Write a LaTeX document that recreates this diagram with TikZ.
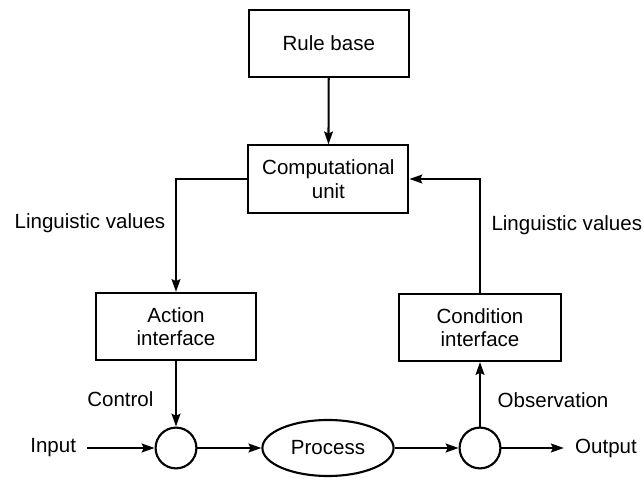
\documentclass[tikz,border=0pt]{standalone}
\usepackage{fontspec}
\setmainfont{Liberation Sans}
\usepackage{tikz}
\usetikzlibrary{positioning,arrows.meta,shapes.geometric}

\begin{document}
\begin{tikzpicture}[line width=1.5pt, >={Stealth[length=3.2mm,width=2.2mm,inset=0.5mm]},
  every node/.style={font=\fontsize{14.6}{16.6}\selectfont}]
\tikzstyle{block}=[draw, rectangle, minimum width=4cm, minimum height=1.68cm, align=center, inner sep=2pt]
\tikzstyle{junction}=[draw, circle, minimum size=1.02cm, inner sep=0pt]
\useasboundingbox (0,0) rectangle (16.1,11.975);
% blocks
\node[block] (rule) at (8.22,10.89) {Rule base};
\node[block] (comp) at (8.21,7.5) {Computational\\unit};
\node[block] (act) at (4.4,3.81) {Action\\interface};
\node[block, minimum width=4.05cm] (cond) at (12.0,3.79) {Condition\\interface};
% plant loop
\node[junction] (sum1) at (4.4,0.775) {};
\node[draw, ellipse, minimum width=3.28cm, minimum height=1.4cm] (proc) at (8.2,0.775) {Process};
\node[junction] (sum2) at (12.0,0.775) {};
\node (in) at (1.33,0.775) {Input};
\node (out) at (15.15,0.775) {Output};
% labels
\node (lvl) at (2.25,6.4) {Linguistic values};
\node (lvr) at (14.17,6.35) {Linguistic values};
\node[anchor=east] (ctrl) at (3.98,2.0) {Control};
\node[anchor=west] (obs) at (12.3,1.975) {Observation};
% connections
\draw[->] (rule) -- (comp);
\draw[->] (comp.west) -| (act.north);
\draw[->] (cond.north) |- (comp.east);
\draw[->] (act) -- (sum1);
\draw[->] (sum2) -- (cond);
\draw[->] ([xshift=4pt]in.east) -- (sum1);
\draw[->] (sum1) -- (proc);
\draw[->] (proc) -- (sum2);
\draw[->] (sum2) -- ([xshift=-4pt]out.west);
\end{tikzpicture}
\end{document}
